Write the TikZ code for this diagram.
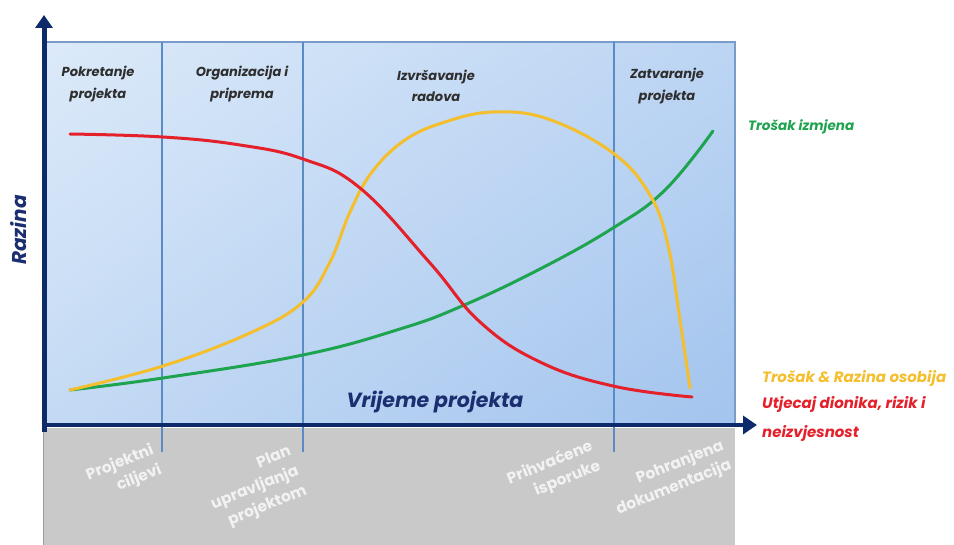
\documentclass[tikz,border=0pt]{standalone}
\usepackage{fontspec}
\usepackage{graphicx}
\setmainfont{Poppins}
\usetikzlibrary{arrows.meta,shadings}
\definecolor{navy}{HTML}{0D2A6B}
\definecolor{navytxt}{HTML}{1B2F70}
\definecolor{phaseline}{HTML}{5B8BC4}
\definecolor{plotborder}{HTML}{7A9CC8}
\definecolor{greyband}{HTML}{C9C9C9}
\definecolor{greyedge}{HTML}{9A9A9A}
\definecolor{bluetl}{HTML}{DCEAF9}
\definecolor{bluetr}{HTML}{BCD5F3}
\definecolor{bluebl}{HTML}{C4DAF4}
\definecolor{bluebr}{HTML}{A3C4EE}
\definecolor{cred}{HTML}{E4202A}
\definecolor{cyellow}{HTML}{F4BE2C}
\definecolor{cgreen}{HTML}{1EA34E}
\definecolor{phasetxt}{HTML}{2E2E2E}
\definecolor{milewhite}{HTML}{F2F2F2}
\newcommand{\milestonetext}[1]{\rotatebox{22}{\begin{tabular}{@{}r@{}}#1\end{tabular}}}
\begin{document}
\begin{tikzpicture}[x=1pt,y=-1pt,
  phaselabel/.style={font=\fontsize{13}{21.5}\selectfont\bfseries\itshape, text=phasetxt, align=center, inner sep=0pt},
  milestone/.style={font=\fontsize{15.5}{21}\selectfont\bfseries, text=milewhite, inner sep=0pt},
  legendlabel/.style={font=\fontsize{15}{29}\selectfont\bfseries\itshape, anchor=west, align=left, inner sep=0pt},
  phasesep/.style={draw=phaseline, line width=1.4pt},
  curve/.style={line width=3pt, line cap=round, line join=round}
]
\useasboundingbox (0,0) rectangle (954,545);
\fill[white] (0,0) rectangle (954,545);
% grey band
\fill[greyband] (44,428) rectangle (735,545);
\draw[greyedge, line width=1pt] (43.5,428) -- (43.5,545);
% plot area
\shade[upper left=bluetl, upper right=bluetr, lower left=bluebl, lower right=bluebr] (44,42) rectangle (735,425);
\draw[plotborder, line width=1.5pt] (44,42) -- (735,42) -- (735,425);
% phase separators
\draw[phasesep] (162,42) -- (162,452);
\draw[phasesep] (303,42) -- (303,452);
\draw[phasesep] (614,42) -- (614,452);
% curves
\draw[curve, cgreen] plot[smooth, tension=0.7] coordinates {(70,390) (163,378) (303,355) (400,329) (462,306) (540,269) (613,228) (665,190) (713,131)};
\draw[curve, cyellow] plot[smooth, tension=0.65] coordinates {(70,390) (163,366) (250,333) (303,302) (330,262) (350,212) (372,172) (405,140) (445,122) (493,112) (548,119) (613,153) (650,195) (668,245) (680,320) (690,388)};
\draw[curve, cred] plot[smooth, tension=0.7] coordinates {(70,134) (163,137) (240,145) (303,159) (360,188) (430,263) (480,322) (540,362) (613,386) (692,397)};
% axes
\draw[navy, line width=5pt, -{Triangle[length=13pt,width=17pt]}] (44,432) -- (44,15);
\draw[navy, line width=4.5pt, -{Triangle[length=14pt,width=18pt]}] (41.5,425) -- (757,425);
% phase labels
\node[phaselabel] (p1) at (98,84) {Pokretanje\\projekta};
\node[phaselabel] (p2) at (242,84) {Organizacija i\\priprema};
\node[phaselabel] (p3) at (436,86) {Izvršavanje\\radova};
\node[phaselabel] (p4) at (667,86) {Zatvaranje\\projekta};
% axis labels
\node[font=\fontsize{20}{22}\selectfont\bfseries\itshape, text=navytxt, rotate=90, inner sep=0pt] (ylab) at (19,230) {Razina};
\node[font=\fontsize{20.5}{22}\selectfont\bfseries\itshape, text=navytxt, inner sep=0pt] (xlab) at (435,402) {Vrijeme projekta};
% legend
\node[legendlabel, font=\fontsize{13.5}{20}\selectfont\bfseries\itshape, text=cgreen] (lg) at (748,127) {Trošak izmjena};
\node[legendlabel, text=cyellow] (ly) at (762,378) {Trošak \& Razina osobija};
\node[legendlabel, text=cred, anchor=north west] (lr) at (762,396) {Utjecaj dionika, rizik i\\neizvjesnost};
% milestones
\node[milestone] (m1) at (124,473) {\milestonetext{Projektni\\ciljevi}};
\node[milestone] (m2) at (255,488) {\milestonetext{Plan\\upravljanja\\projektom}};
\node[milestone] (m3) at (554,473) {\milestonetext{Prihvaćene\\isporuke}};
\node[milestone] (m4) at (670,478) {\milestonetext{Pohranjena\\dokumentacija}};
\end{tikzpicture}
\end{document}
